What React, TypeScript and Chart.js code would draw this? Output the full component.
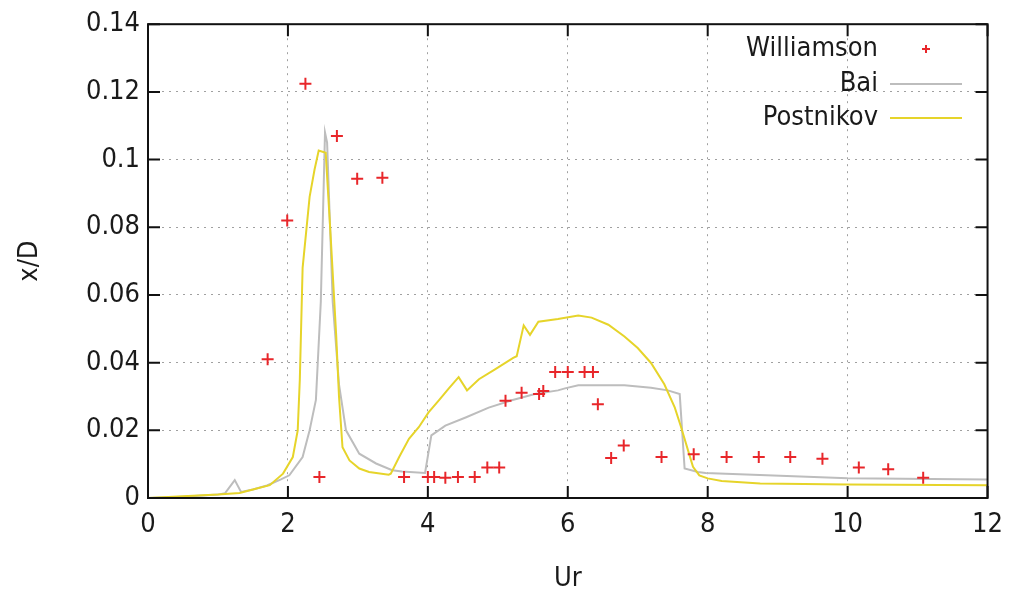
import React, { useEffect, useRef } from "react";
import { Chart, registerables } from "chart.js";

Chart.register(...registerables);

const xTicks = [0, 2, 4, 6, 8, 10, 12];
const yTicks = [0, 0.02, 0.04, 0.06, 0.08, 0.1, 0.12, 0.14];
const yTickLabels = ["0", "0.02", "0.04", "0.06", "0.08", "0.1", "0.12", "0.14"];

const williamsonX = [1.71, 1.99, 2.25, 2.45, 2.70, 2.99, 3.35, 3.66, 4.0, 4.09, 4.25, 4.43, 4.67, 4.85, 5.02, 5.11, 5.34, 5.59, 5.65, 5.82, 6.0, 6.24, 6.36, 6.43, 6.62, 6.80, 7.34, 7.80, 8.27, 8.73, 9.18, 9.64, 10.16, 10.58, 11.08];
const williamsonY = [0.041, 0.082, 0.1224, 0.0062, 0.107, 0.0943, 0.0946, 0.0062, 0.0062, 0.0062, 0.006, 0.0062, 0.0062, 0.009, 0.009, 0.0287, 0.0311, 0.0307, 0.0316, 0.0372, 0.0372, 0.0372, 0.0372, 0.0277, 0.0118, 0.0155, 0.0121, 0.0129, 0.0121, 0.0121, 0.0121, 0.0116, 0.009, 0.0085, 0.006];

const baiX = [0, 0.5, 1.0, 1.1, 1.24, 1.33, 1.5, 1.7, 1.9, 2.02, 2.21, 2.31, 2.4, 2.47, 2.53, 2.56, 2.64, 2.73, 2.83, 3.02, 3.26, 3.49, 3.63, 3.96, 4.05, 4.25, 4.54, 4.87, 5.2, 5.53, 5.86, 5.96, 6.15, 6.81, 7.19, 7.43, 7.6, 7.67, 7.86, 7.97, 10.0, 12.0];
const baiY = [0, 0.0004, 0.001, 0.0014, 0.0053, 0.0018, 0.0025, 0.0037, 0.0055, 0.0067, 0.0121, 0.02, 0.029, 0.058, 0.108, 0.105, 0.058, 0.0336, 0.02, 0.0131, 0.0102, 0.0082, 0.0078, 0.0074, 0.0185, 0.0214, 0.0238, 0.0267, 0.0289, 0.0307, 0.0318, 0.0324, 0.0333, 0.0333, 0.0326, 0.0318, 0.0307, 0.0087, 0.0077, 0.0074, 0.0058, 0.0055];

const postnikovX = [0, 0.36, 1.0, 1.31, 1.5, 1.74, 1.93, 2.07, 2.14, 2.17, 2.21, 2.31, 2.38, 2.44, 2.54, 2.61, 2.69, 2.73, 2.78, 2.88, 3.02, 3.16, 3.44, 3.47, 3.59, 3.73, 3.87, 4.01, 4.16, 4.3, 4.44, 4.56, 4.73, 4.96, 5.22, 5.27, 5.37, 5.46, 5.58, 5.86, 6.15, 6.34, 6.58, 6.81, 7.0, 7.19, 7.38, 7.53, 7.62, 7.72, 7.79, 7.88, 8.0, 8.2, 8.75, 10.0, 12.0];
const postnikovY = [0, 0.0004, 0.001, 0.0015, 0.0025, 0.0038, 0.0072, 0.0121, 0.02, 0.035, 0.068, 0.089, 0.097, 0.1027, 0.102, 0.0776, 0.048, 0.03, 0.015, 0.0111, 0.0087, 0.0077, 0.0069, 0.0072, 0.0121, 0.0175, 0.0209, 0.0253, 0.0289, 0.0324, 0.0357, 0.0318, 0.0351, 0.038, 0.0414, 0.0419, 0.051, 0.0482, 0.0521, 0.0529, 0.0539, 0.0533, 0.0512, 0.0477, 0.0443, 0.0399, 0.0336, 0.0267, 0.0209, 0.014, 0.0092, 0.0067, 0.0058, 0.005, 0.0043, 0.004, 0.0038];

const FONT = "'DejaVu Sans Condensed', 'DejaVu Sans', sans-serif";
const TEXT_COLOR = "#1a1a1a";

const toPts = (xs: number[], ys: number[]) => xs.map((x, i) => ({ x, y: ys[i] }));

const framePlugin = {
  id: "frameTicks",
  afterDatasetsDraw(chart: any) {
    const { ctx, chartArea } = chart;
    const { left, right, top, bottom } = chartArea;
    const xs = chart.scales.x;
    const ys = chart.scales.y;
    const len = 12;
    ctx.save();
    ctx.strokeStyle = "#111";
    ctx.lineWidth = 2;
    ctx.beginPath();
    xTicks.forEach((v) => {
      const px = xs.getPixelForValue(v);
      ctx.moveTo(px, bottom);
      ctx.lineTo(px, bottom - len);
      ctx.moveTo(px, top);
      ctx.lineTo(px, top + len);
    });
    yTicks.forEach((v) => {
      const py = ys.getPixelForValue(v);
      ctx.moveTo(left, py);
      ctx.lineTo(left + len, py);
      ctx.moveTo(right, py);
      ctx.lineTo(right - len, py);
    });
    ctx.stroke();
    ctx.strokeRect(left, top, right - left, bottom - top);
    ctx.restore();
  },
};

const legendPlugin = {
  id: "customLegend",
  afterDraw(chart: any) {
    const { ctx } = chart;
    const ds = chart.data.datasets;
    const textRight = 878;
    const symX0 = 890;
    const symX1 = 962;
    const rows = [49, 84, 118];
    ctx.save();
    ctx.font = `27px ${FONT}`;
    ctx.fillStyle = TEXT_COLOR;
    ctx.textAlign = "right";
    ctx.textBaseline = "middle";
    ds.forEach((d: any, i: number) => {
      const y = rows[i];
      ctx.fillText(d.label, textRight, y);
      ctx.strokeStyle = d.borderColor;
      ctx.lineWidth = 2;
      ctx.beginPath();
      if (d.showLine === false) {
        const cx = (symX0 + symX1) / 2;
        ctx.moveTo(cx - 4, y);
        ctx.lineTo(cx + 4, y);
        ctx.moveTo(cx, y - 4);
        ctx.lineTo(cx, y + 4);
      } else {
        ctx.moveTo(symX0, y);
        ctx.lineTo(symX1, y);
      }
      ctx.stroke();
    });
    ctx.restore();
  },
};

export default function App() {
  const ref = useRef<HTMLCanvasElement | null>(null);

  useEffect(() => {
    if (!ref.current) return;
    const chart = new Chart(ref.current, {
      type: "scatter",
      data: {
        datasets: [
          {
            label: "Williamson",
            data: toPts(williamsonX, williamsonY),
            showLine: false,
            pointStyle: "cross",
            pointRadius: 6,
            pointBorderWidth: 2,
            borderColor: "#e8262a",
            backgroundColor: "#e8262a",
            order: 0,
          },
          {
            label: "Bai",
            data: toPts(baiX, baiY),
            showLine: true,
            pointRadius: 0,
            borderColor: "#bdbdbd",
            borderWidth: 2,
            tension: 0,
            order: 2,
          },
          {
            label: "Postnikov",
            data: toPts(postnikovX, postnikovY),
            showLine: true,
            pointRadius: 0,
            borderColor: "#e6d42a",
            borderWidth: 2,
            tension: 0,
            order: 1,
          },
        ] as any,
      },
      options: {
        animation: false,
        responsive: false,
        layout: { padding: { top: 20, right: 20, left: 0, bottom: 0 } },
        plugins: {
          legend: { display: false },
          tooltip: { enabled: false },
        },
        scales: {
          x: {
            type: "linear",
            min: 0,
            max: 12,
            afterFit: (s: any) => {
              s.height = 101;
            },
            afterBuildTicks: (s: any) => {
              s.ticks = xTicks.map((v) => ({ value: v }));
            },
            ticks: {
              padding: 11,
              color: TEXT_COLOR,
              font: { family: FONT, size: 27 },
              maxRotation: 0,
            },
            grid: { color: "#a0a0a0", lineWidth: 1, drawTicks: false },
            border: { display: false, dash: [2, 5] },
            title: {
              display: true,
              text: "Ur",
              color: TEXT_COLOR,
              font: { family: FONT, size: 27 },
              padding: { top: 0, bottom: 4 },
            },
          },
          y: {
            type: "linear",
            min: 0,
            max: 0.14,
            afterFit: (s: any) => {
              s.width = 148;
            },
            afterBuildTicks: (s: any) => {
              s.ticks = yTicks.map((v) => ({ value: v }));
            },
            ticks: {
              padding: 8,
              color: TEXT_COLOR,
              font: { family: FONT, size: 27 },
              callback: (v: any) => {
                const i = yTicks.findIndex((t) => Math.abs(t - Number(v)) < 1e-9);
                return i >= 0 ? yTickLabels[i] : "";
              },
            },
            grid: { color: "#a0a0a0", lineWidth: 1, drawTicks: false },
            border: { display: false, dash: [2, 5] },
            title: {
              display: true,
              text: "x/D",
              color: TEXT_COLOR,
              font: { family: FONT, size: 27 },
              padding: { top: 14, bottom: 0 },
            },
          },
        },
      },
      plugins: [framePlugin, legendPlugin],
    });
    return () => chart.destroy();
  }, []);

  return (
    <div style={{ position: "fixed", left: 0, top: 0, width: 1014, height: 599, background: "#fff" }}>
      <canvas ref={ref} width={1014} height={599} style={{ display: "block" }} />
    </div>
  );
}
